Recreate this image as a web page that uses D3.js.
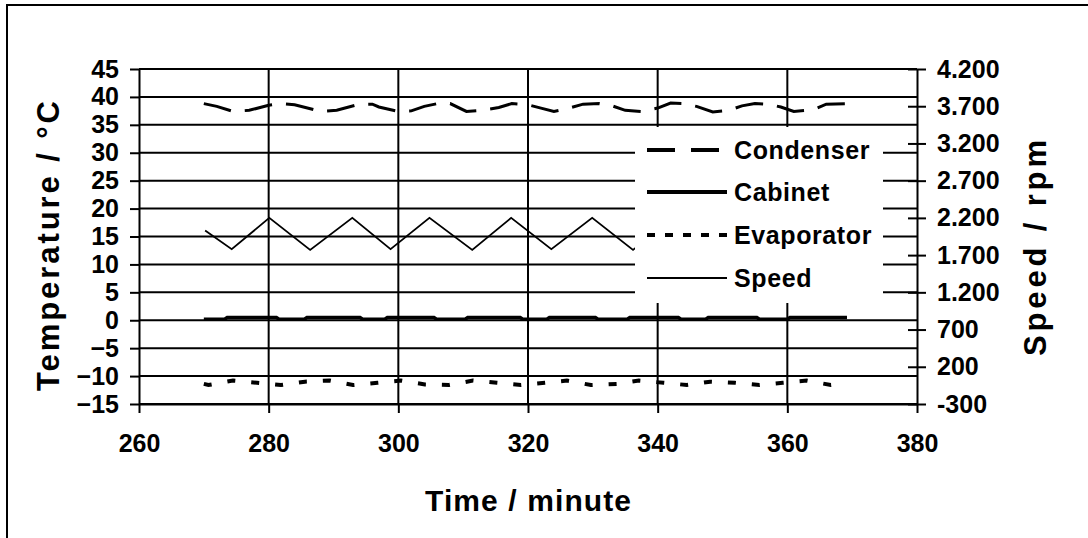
<!DOCTYPE html>
<html><head><meta charset="utf-8">
<script src="https://cdn.jsdelivr.net/npm/d3@7/dist/d3.min.js"></script>
<style>
body{margin:0;background:#fff}
text{font-family:"Liberation Sans",Arial,sans-serif;font-weight:bold;fill:#000}
</style>
</head><body>
<svg id="c" width="1088" height="538"></svg>
<script>
// ---- data ----
const tempTicks = [45,40,35,30,25,20,15,10,5,0,-5,-10,-15];
const speedTicks = [4200,3700,3200,2700,2200,1700,1200,700,200,-300];
const speedTickLabels = ["4.200","3.700","3.200","2.700","2.200","1.700","1.200","700","200","-300"];
const timeTicks = [260,280,300,320,340,360,380];
const seriesNames = ["Condenser","Cabinet","Evaporator","Speed"];

const condTime = [270,272,274.5,277,280,282,284,288,290.5,294,296,297,300,302,304,306,308,310.5,313,315.5,317.5,320,322,324,326,328.5,331,333,335,337.5,340,342,344,346,348.5,351,353,355,357,359,361,364,366,369];
const condTemp = [38.8,38.3,37.4,37.6,38.5,38.8,38.6,37.4,37.6,38.7,38.7,38.2,37.4,37.5,38.3,38.8,38.8,37.4,37.6,38.1,38.8,38.6,38.0,37.4,37.9,38.7,38.8,38.4,37.6,37.4,38.0,38.9,38.8,38.3,37.3,37.6,38.4,38.8,38.7,38.2,37.4,37.7,38.7,38.8];

const cabTime = [270,273.2,273.6,281.2,281.6,285.5,285.9,294.1,294.5,297.9,298.3,305.5,305.9,310.3,310.7,318.8,319.2,322.9,323.3,330.4,330.8,335.3,335.7,343.2,343.6,347.4,347.8,355.3,355.7,360.0,360.4,369.2];
const cabTemp = [0.2,0.2,0.5,0.5,0.2,0.2,0.5,0.5,0.2,0.2,0.5,0.5,0.2,0.2,0.5,0.5,0.2,0.2,0.5,0.5,0.2,0.2,0.5,0.5,0.2,0.2,0.5,0.5,0.2,0.2,0.5,0.5];

const evapTime = [270,270.7,274.5,278.2,281.9,285.6,289.4,293.0,296.8,300.4,304.1,307.8,311.5,315.2,318.9,322.6,326.0,329.7,333.7,337.1,340.9,344.5,348.1,351.9,355.7,359.3,363.0,366.7,369];
const evapTemp = [-11.4,-11.6,-10.8,-11.2,-11.6,-11.0,-10.8,-11.6,-11.2,-10.8,-11.5,-11.6,-10.8,-11.2,-11.6,-11.2,-10.8,-11.6,-11.4,-10.8,-11.2,-11.6,-11.0,-11.2,-11.6,-11.2,-10.8,-11.6,-11.3];

const speedTime = [270.2,274.3,280.1,286.4,292.9,298.8,304.8,311.4,317.4,323.6,329.9,336.2,342.4,348.6,354.9,361.1,367.3,369];
const speedRpm  = [2030,1780,2200,1770,2200,1780,2200,1770,2200,1780,2200,1770,2200,1780,2200,1780,2200,2100];

// ---- layout ----
const svg = d3.select("#c");
const L = 139, R = 917, T = 69, B = 404;
const x = d3.scaleLinear().domain([260,380]).range([L,R]);
const yL = d3.scaleLinear().domain([-15,45]).range([B,T]);
const yR = d3.scaleLinear().domain([-300,4200]).range([B,T]);

svg.append("rect").attr("width",1088).attr("height",538).attr("fill","#fff");
svg.append("rect").attr("x",7).attr("y",5).attr("width",1100).attr("height",560)
  .attr("fill","none").attr("stroke","#000").attr("stroke-width",2);

// grid
svg.append("g").selectAll("line").data(tempTicks).join("line")
  .attr("x1",L).attr("x2",R).attr("y1",d=>yL(d)).attr("y2",d=>yL(d))
  .attr("stroke","#000").attr("stroke-width",2);
svg.append("g").selectAll("line").data(timeTicks.slice(1,-1)).join("line")
  .attr("x1",d=>x(d)).attr("x2",d=>x(d)).attr("y1",T).attr("y2",B)
  .attr("stroke","#000").attr("stroke-width",2);

// data lines
svg.append("clipPath").attr("id","pc").append("rect")
  .attr("x",L).attr("y",T).attr("width",R-L).attr("height",B-T);
const g = svg.append("g").attr("clip-path","url(#pc)");
const lineL = d3.line().x(d=>x(d[0])).y(d=>yL(d[1]));
const lineR = d3.line().x(d=>x(d[0])).y(d=>yR(d[1]));
g.append("path").datum(d3.zip(speedTime,speedRpm)).attr("d",lineR)
  .attr("fill","none").attr("stroke","#000").attr("stroke-width",1.8);
g.append("path").datum(d3.zip(condTime,condTemp)).attr("d",lineL)
  .attr("fill","none").attr("stroke","#000").attr("stroke-width",3)
  .attr("stroke-dasharray","28,14");
g.append("path").datum(d3.zip(cabTime,cabTemp)).attr("d",lineL)
  .attr("fill","none").attr("stroke","#000").attr("stroke-width",3.5);
g.append("path").datum(d3.zip(evapTime,evapTemp)).attr("d",lineL)
  .attr("fill","none").attr("stroke","#000").attr("stroke-width",4)
  .attr("stroke-dasharray","8,16");

// legend
const lg = svg.append("g");
lg.append("rect").attr("x",635).attr("y",127).attr("width",248).attr("height",176).attr("fill","#fff");
const legY = [150,192,235,278];
const legStyle = [{w:4,d:"28,16"},{w:4,d:null},{w:4,d:"8,10"},{w:2,d:null}];
seriesNames.forEach((n,i)=>{
  lg.append("line").attr("x1",647).attr("x2",727).attr("y1",legY[i]).attr("y2",legY[i])
    .attr("stroke","#000").attr("stroke-width",legStyle[i].w)
    .attr("stroke-dasharray",legStyle[i].d);
  lg.append("text").attr("x",734).attr("y",legY[i]).attr("dy","0.35em")
    .style("font-size","25px").style("letter-spacing","0.6px").text(n);
});

// axes
function styleAxis(sel){
  sel.selectAll("path.domain").attr("stroke","#000").attr("stroke-width",2);
  sel.selectAll(".tick line").attr("stroke","#000").attr("stroke-width",2);
  sel.selectAll("text").attr("font-family",null).style("font-size","25px")
    .style("font-family","'Liberation Sans',Arial,sans-serif").style("font-weight","bold").attr("fill","#000");
}
const axL = svg.append("g").attr("transform",`translate(${L},0)`)
  .call(d3.axisLeft(yL).tickValues(tempTicks).tickSize(9).tickSizeOuter(0).tickPadding(11));
styleAxis(axL);
const axR = svg.append("g").attr("transform",`translate(${R},0)`)
  .call(d3.axisRight(yR).tickValues(speedTicks).tickSize(9).tickSizeOuter(0).tickPadding(11)
    .tickFormat((d,i)=>speedTickLabels[i]));
styleAxis(axR);
axR.selectAll(".tick line").attr("x1",-9);
const axB = svg.append("g").attr("transform",`translate(0,${B})`)
  .call(d3.axisBottom(x).tickValues(timeTicks).tickSize(9).tickSizeOuter(0).tickPadding(21));
styleAxis(axB);

// titles
svg.append("text").attr("x",528).attr("y",511).attr("text-anchor","middle")
  .style("font-size","30px").attr("textLength",206).attr("lengthAdjust","spacing").text("Time / minute");
svg.append("text").attr("transform","translate(59,246) rotate(-90)").attr("text-anchor","middle")
  .style("font-size","31px").attr("textLength",290).attr("lengthAdjust","spacing").text("Temperature / °C");
svg.append("text").attr("transform","translate(1046,248) rotate(-90)").attr("text-anchor","middle")
  .style("font-size","31px").attr("textLength",216).attr("lengthAdjust","spacing").text("Speed / rpm");
</script>
</body></html>
